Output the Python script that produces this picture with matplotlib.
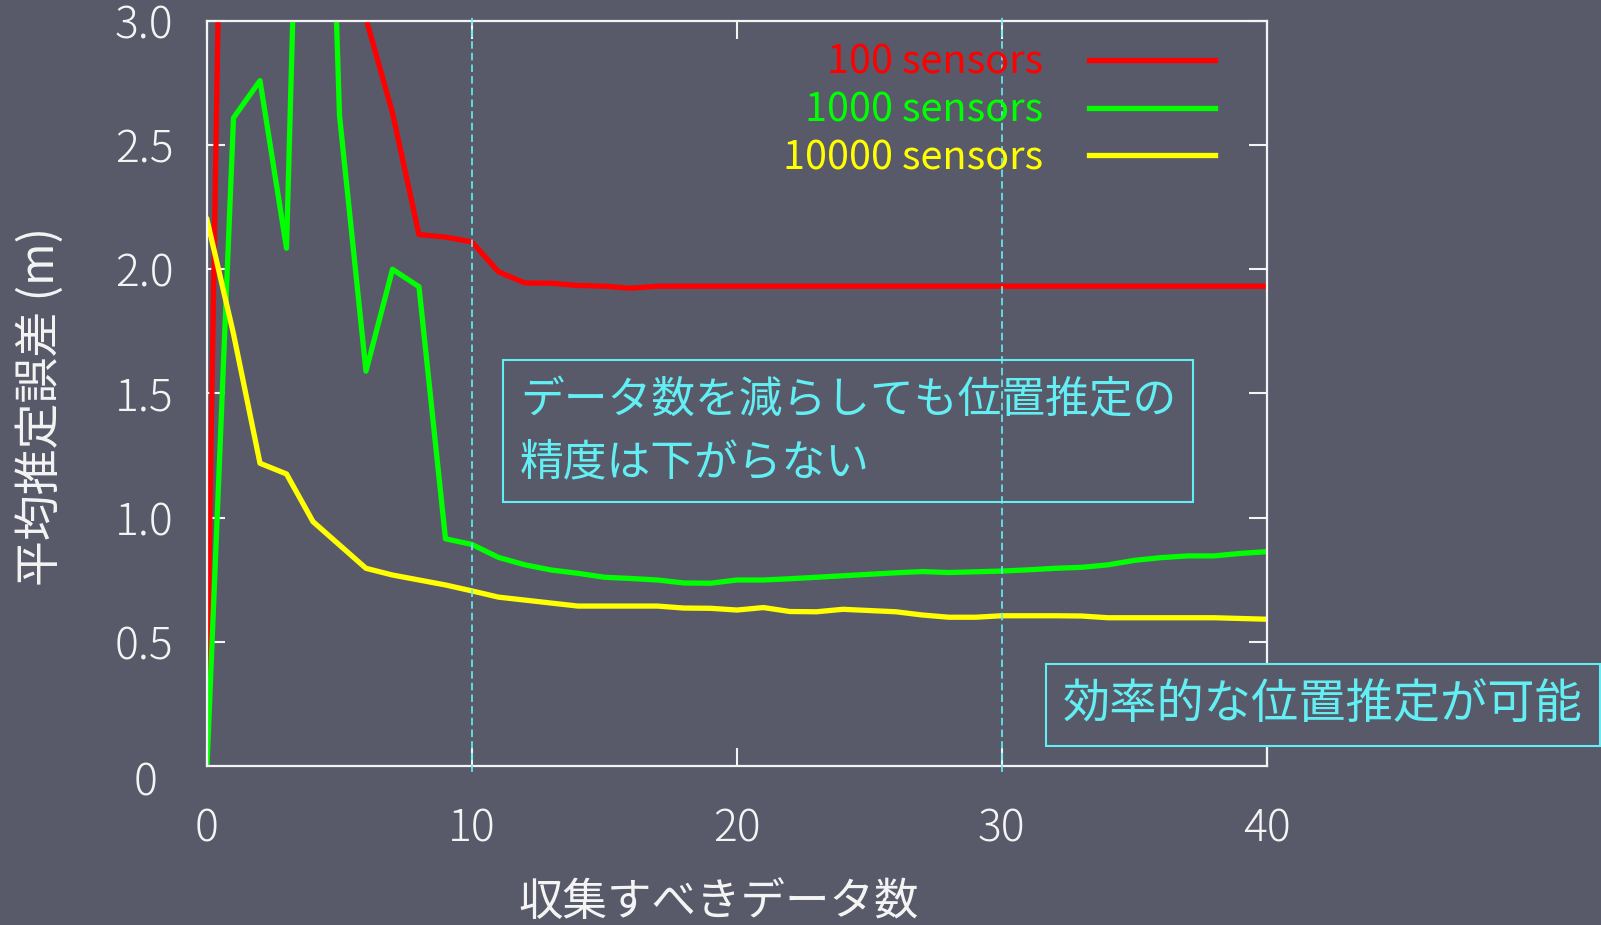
import numpy as np
import matplotlib.pyplot as plt

plt.rcParams['font.family'] = ['Noto Sans CJK JP', 'DejaVu Sans']

# number of collected data points (x) and mean localisation error in metres
n_data = np.arange(41)

err_100 = [0.30, 6.80, 5.60, 4.90, 4.20, 3.60, 3.01, 2.63, 2.14, 2.13,
           2.11, 1.99, 1.945, 1.944, 1.935, 1.932, 1.924, 1.932, 1.932, 1.932,
           1.932, 1.932, 1.932, 1.932, 1.932, 1.932, 1.932, 1.932, 1.932, 1.932,
           1.932, 1.932, 1.932, 1.932, 1.932, 1.932, 1.932, 1.932, 1.932, 1.932,
           1.932]
err_1000 = [0.00, 2.61, 2.76, 2.085, 6.00, 2.62, 1.59, 2.00, 1.93, 0.915,
            0.892, 0.840, 0.810, 0.789, 0.776, 0.760, 0.755, 0.749, 0.737, 0.736,
            0.749, 0.749, 0.754, 0.760, 0.766, 0.772, 0.778, 0.783, 0.779, 0.782,
            0.785, 0.790, 0.796, 0.800, 0.810, 0.828, 0.839, 0.846, 0.846, 0.856,
            0.863]
err_10000 = [2.20, 1.74, 1.219, 1.176, 0.984, 0.890, 0.796, 0.769, 0.749, 0.729,
             0.705, 0.680, 0.668, 0.656, 0.644, 0.644, 0.644, 0.644, 0.636, 0.635,
             0.628, 0.638, 0.622, 0.621, 0.631, 0.626, 0.621, 0.608, 0.599, 0.599,
             0.605, 0.605, 0.605, 0.604, 0.597, 0.597, 0.597, 0.597, 0.597, 0.594,
             0.591]

series = [err_100, err_1000, err_10000]
labels = ['100 sensors', '1000 sensors', '10000 sensors']
colors = ['#ff0000', '#00ff00', '#ffff00']

x_ticks = [0, 10, 20, 30, 40]
y_ticks = [0.5, 1.0, 1.5, 2.0, 2.5, 3.0]
guide_x = [10, 30]

BG = '#585a6a'
FG = '#f4f4f4'
CYAN = '#62eef2'

fig = plt.figure(figsize=(16.01, 9.25), dpi=100, facecolor=BG)
ax = fig.add_axes([0.1293, 0.1719, 0.662, 0.8054])
ax.set_facecolor(BG)

for vals, color, label in zip(series, colors, labels):
    ax.plot(n_data, vals, color=color, lw=3.8, label=label)

ax.set_xlim(0, 40)
ax.set_ylim(0, 3)
for sp in ax.spines.values():
    sp.set_color(FG)
    sp.set_linewidth(1.6)

ax.set_xticks(x_ticks)
ax.set_xticklabels([str(v) for v in x_ticks], fontweight='light')
ax.set_yticks(y_ticks)
ax.set_yticklabels(['%.1f' % v for v in y_ticks], fontweight='light')
ax.tick_params(direction='in', length=13, width=1.5, colors=FG, labelsize=32,
               top=True, right=True)
ax.tick_params(axis='y', pad=24)
ax.tick_params(axis='x', pad=29)

# origin label for the y axis sits a little below the corner
ax.annotate('0', xy=(0, 0), xycoords='axes fraction', xytext=(-50, -17),
            textcoords='offset pixels', ha='right', va='center',
            fontsize=32, fontweight='light', color=FG)

# dashed guides
for xv in guide_x:
    ax.axvline(xv, ymin=-0.008, ymax=1.008, color=CYAN, lw=1.2,
               dashes=(4.5, 2.5), clip_on=False, zorder=5)

ax.set_xlabel('収集すべきデータ数', fontsize=32, color=FG, va='center')
ax.xaxis.set_label_coords(0.4826, -0.1826)
ax.set_ylabel('平均推定誤差 (m)', fontsize=33, color=FG, va='center')
ax.yaxis.set_label_coords(-0.157, 0.483)

ax.legend(loc='upper right', bbox_to_anchor=(0.951, 0.9705), frameon=False,
          markerfirst=False, labelcolor='linecolor', fontsize=28.5,
          handlelength=3.18, handletextpad=1.16, labelspacing=0.19,
          borderpad=0, borderaxespad=0)

fig.text(0.5297, 0.534, 'データ数を減らしても位置推定の\n精度は下がらない',
         ha='center', va='center', multialignment='left', fontsize=31.5,
         color=CYAN, linespacing=1.45,
         bbox=dict(boxstyle='square,pad=0.38', fc='none', ec=CYAN, lw=1.5))

fig.text(1063 / 1601, 1 - 705 / 925, '効率的な位置推定が可能',
         ha='left', va='center', fontsize=34, color=CYAN,
         bbox=dict(boxstyle='square,pad=0.36', fc=BG, ec=CYAN, lw=1.5))

fig.savefig('out.png', dpi=100, facecolor=BG)
